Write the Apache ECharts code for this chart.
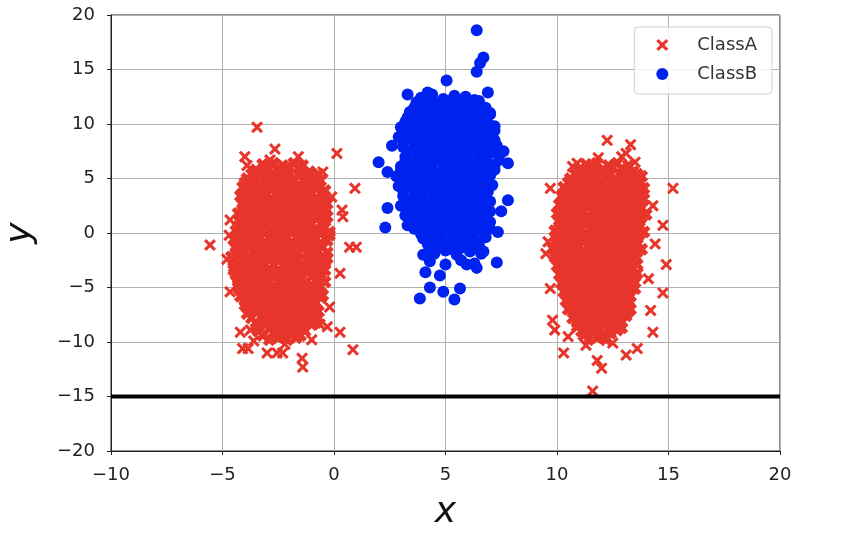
<!DOCTYPE html>
<html><head><meta charset="utf-8">
<script src="https://cdn.jsdelivr.net/npm/echarts@6/dist/echarts.min.js"></script>
<style>html,body{margin:0;padding:0;background:#fff}#c{width:844px;height:550px}</style>
</head><body><div id="c"></div>
<script>
// ---- data ----
const seriesNames = ['ClassA', 'ClassB'];
const xTicks = [-10, -5, 0, 5, 10, 15, 20];
const yTicks = [-20, -15, -10, -5, 0, 5, 10, 15, 20];
const boundaryX = [-10, 20];
const boundaryY = [-15, -15];

const classA_left = [
[-3.5,5.8],[-3.0,6.1],[-2.5,5.7],[-2.1,6.0],[-1.6,5.9],[-1.1,5.6],
[-3.9,5.0],[-3.4,5.3],[-3.0,4.9],[-2.6,5.2],[-2.2,5.1],[-1.8,4.9],[-1.3,5.2],[-0.9,5.0],
[-4.1,4.2],[-3.7,4.5],[-3.3,4.1],[-2.9,4.4],[-2.4,4.3],[-2.0,4.1],[-1.6,4.4],[-1.2,4.2],[-0.7,4.4],
[-4.2,3.4],[-3.8,3.7],[-3.4,3.3],[-3.0,3.6],[-2.6,3.5],[-2.2,3.3],[-1.8,3.6],[-1.4,3.4],[-1.0,3.7],[-0.5,3.5],
[-4.1,2.6],[-3.6,2.9],[-3.2,2.5],[-2.8,2.8],[-2.4,2.7],[-2.0,2.5],[-1.6,2.8],[-1.1,2.6],[-0.7,2.9],[-0.3,2.7],
[-4.3,1.8],[-3.9,2.1],[-3.4,1.7],[-3.0,2.0],[-2.6,1.9],[-2.2,1.7],[-1.8,2.0],[-1.4,1.8],[-0.9,2.1],[-0.5,1.9],
[-4.2,1.0],[-3.8,1.3],[-3.3,0.9],[-2.9,1.2],[-2.5,1.1],[-2.1,0.9],[-1.7,1.2],[-1.3,1.0],[-0.8,1.3],[-0.4,1.1],
[-4.4,0.2],[-4.0,0.5],[-3.6,0.1],[-3.2,0.4],[-2.8,0.3],[-2.3,0.1],[-1.9,0.4],[-1.5,0.2],[-1.1,0.5],[-0.6,0.3],[-0.2,0.1],
[-4.5,-0.6],[-4.1,-0.3],[-3.7,-0.7],[-3.3,-0.4],[-2.9,-0.5],[-2.5,-0.7],[-2.1,-0.4],[-1.6,-0.6],[-1.2,-0.3],[-0.8,-0.5],[-0.3,-0.7],
[-4.4,-1.4],[-3.9,-1.1],[-3.5,-1.5],[-3.1,-1.2],[-2.7,-1.3],[-2.3,-1.5],[-1.9,-1.2],[-1.4,-1.4],[-1.0,-1.1],[-0.5,-1.3],
[-4.6,-2.2],[-4.2,-1.9],[-3.8,-2.3],[-3.4,-2.0],[-2.9,-2.1],[-2.5,-2.3],[-2.1,-2.0],[-1.7,-2.2],[-1.2,-1.9],[-0.8,-2.1],[-0.3,-2.3],
[-4.3,-3.0],[-3.9,-2.7],[-3.5,-3.1],[-3.1,-2.8],[-2.7,-2.9],[-2.2,-3.1],[-1.8,-2.8],[-1.4,-3.0],[-1.0,-2.7],[-0.5,-2.9],
[-4.4,-3.8],[-4.0,-3.5],[-3.6,-3.9],[-3.2,-3.6],[-2.8,-3.7],[-2.4,-3.9],[-2.0,-3.6],[-1.5,-3.8],[-1.1,-3.5],[-0.6,-3.7],
[-4.2,-4.6],[-3.8,-4.3],[-3.3,-4.7],[-2.9,-4.4],[-2.5,-4.5],[-2.1,-4.7],[-1.7,-4.4],[-1.3,-4.6],[-0.8,-4.3],[-0.4,-4.5],
[-4.1,-5.4],[-3.7,-5.1],[-3.3,-5.5],[-2.8,-5.2],[-2.4,-5.3],[-2.0,-5.5],[-1.6,-5.2],[-1.1,-5.4],[-0.7,-5.1],
[-4.0,-6.2],[-3.5,-5.9],[-3.1,-6.3],[-2.7,-6.0],[-2.3,-6.1],[-1.9,-6.3],[-1.4,-6.0],[-1.0,-6.2],[-0.6,-5.9],
[-3.8,-7.0],[-3.4,-6.7],[-3.0,-7.1],[-2.5,-6.8],[-2.1,-6.9],[-1.7,-7.1],[-1.3,-6.8],[-0.9,-7.0],
[-3.7,-7.8],[-3.2,-7.5],[-2.8,-7.9],[-2.4,-7.6],[-2.0,-7.7],[-1.5,-7.9],[-1.1,-7.6],[-0.7,-7.8],
[-3.4,-8.6],[-3.0,-8.3],[-2.6,-8.7],[-2.2,-8.4],[-1.8,-8.5],[-1.4,-8.7],[-1.0,-8.4],
[-3.2,-9.4],[-2.7,-9.1],[-2.3,-9.5],[-1.9,-9.2],[-1.5,-9.4]
];
const classA_left_fill = [
[-3.2,6.3],[-2.7,6.4],[-2.3,6.2],[-1.8,6.4],[-1.4,6.2],
[-3.7,5.4],[-3.2,5.6],[-2.8,5.4],[-2.4,5.6],[-2.0,5.5],[-1.5,5.4],[-1.1,5.6],[-0.7,5.4],
[-4.0,4.6],[-3.5,4.8],[-3.1,4.6],[-2.7,4.8],[-2.3,4.7],[-1.9,4.6],[-1.4,4.8],[-1.0,4.6],[-0.6,4.8],
[-4.0,3.8],[-3.6,4.0],[-3.2,3.8],[-2.8,4.0],[-2.4,3.9],[-2.0,3.8],[-1.6,4.0],[-1.2,3.8],[-0.8,4.0],[-0.4,3.9],
[-4.0,3.0],[-3.6,3.2],[-3.2,3.0],[-2.8,3.2],[-2.4,3.1],[-2.0,3.0],[-1.6,3.2],[-1.2,3.0],[-0.8,3.2],[-0.4,3.1],
[-4.1,2.2],[-3.7,2.4],[-3.3,2.2],[-2.9,2.4],[-2.5,2.3],[-2.1,2.2],[-1.7,2.4],[-1.3,2.2],[-0.9,2.4],[-0.4,2.3],
[-4.0,1.4],[-3.6,1.6],[-3.2,1.4],[-2.8,1.6],[-2.4,1.5],[-2.0,1.4],[-1.6,1.6],[-1.1,1.4],[-0.7,1.6],[-0.3,1.5],
[-4.3,0.6],[-3.8,0.8],[-3.4,0.6],[-3.0,0.8],[-2.6,0.7],[-2.2,0.6],[-1.8,0.8],[-1.4,0.6],[-1.0,0.8],[-0.5,0.7],
[-4.3,-0.2],[-3.9,0.0],[-3.5,-0.2],[-3.1,0.0],[-2.7,-0.1],[-2.3,-0.2],[-1.9,0.0],[-1.4,-0.2],[-1.0,0.0],[-0.6,-0.1],[-0.2,-0.2],
[-4.3,-1.0],[-3.9,-0.8],[-3.5,-1.0],[-3.1,-0.8],[-2.7,-0.9],[-2.3,-1.0],[-1.9,-0.8],[-1.5,-1.0],[-1.1,-0.8],[-0.6,-0.9],
[-4.4,-1.8],[-4.0,-1.6],[-3.6,-1.8],[-3.2,-1.6],[-2.8,-1.7],[-2.4,-1.8],[-2.0,-1.6],[-1.6,-1.8],[-1.1,-1.6],[-0.7,-1.7],[-0.3,-1.8],
[-4.5,-2.6],[-4.1,-2.4],[-3.7,-2.6],[-3.3,-2.4],[-2.9,-2.5],[-2.5,-2.6],[-2.1,-2.4],[-1.6,-2.6],[-1.2,-2.4],[-0.8,-2.5],[-0.4,-2.6],
[-4.5,-3.4],[-4.1,-3.2],[-3.7,-3.4],[-3.3,-3.2],[-2.9,-3.3],[-2.5,-3.4],[-2.1,-3.2],[-1.7,-3.4],[-1.3,-3.2],[-0.9,-3.3],[-0.4,-3.4],
[-4.3,-4.2],[-3.9,-4.0],[-3.5,-4.2],[-3.1,-4.0],[-2.7,-4.1],[-2.3,-4.2],[-1.9,-4.0],[-1.5,-4.2],[-1.0,-4.0],[-0.6,-4.1],
[-4.3,-5.0],[-3.9,-4.8],[-3.5,-5.0],[-3.1,-4.8],[-2.7,-4.9],[-2.3,-5.0],[-1.9,-4.8],[-1.5,-5.0],[-1.0,-4.8],[-0.6,-4.9],
[-4.2,-5.8],[-3.8,-5.6],[-3.4,-5.8],[-3.0,-5.6],[-2.6,-5.7],[-2.2,-5.8],[-1.8,-5.6],[-1.3,-5.8],[-0.9,-5.6],[-0.5,-5.7],
[-4.0,-6.6],[-3.6,-6.4],[-3.2,-6.6],[-2.8,-6.4],[-2.4,-6.5],[-2.0,-6.6],[-1.6,-6.4],[-1.2,-6.6],[-0.8,-6.4],
[-3.9,-7.4],[-3.5,-7.2],[-3.1,-7.4],[-2.7,-7.2],[-2.3,-7.3],[-1.9,-7.4],[-1.5,-7.2],[-1.1,-7.4],[-0.7,-7.2],
[-3.5,-8.2],[-3.1,-8.0],[-2.7,-8.2],[-2.3,-8.0],[-1.9,-8.1],[-1.5,-8.2],[-1.1,-8.0],[-0.8,-8.2],
[-3.4,-9.0],[-2.9,-8.8],[-2.5,-9.0],[-2.1,-8.8],[-1.7,-8.9],[-1.3,-9.0],
[-2.9,-9.8],[-2.5,-9.6],[-2.1,-9.8],[-1.7,-9.6]
];
const classA_left_outliers = [
[-3.45,9.7],[-4.0,7.0],[-2.65,7.7],[-2.87,6.7],[-1.6,7.0],[0.13,7.3],[-0.5,5.6],[0.94,4.1],
[-4.66,1.2],[-5.56,-1.1],[0.7,-1.3],[1.0,-1.3],[0.36,2.1],[0.4,1.5],[0.27,-3.7],[-4.66,-5.4],
[-4.5,-3.1],[-4.35,-3.9],[-4.2,-9.1],[-4.1,-10.6],[-3.85,-10.6],[-3.0,-11.0],[-2.55,-11.0],[-2.3,-11.0],
[-1.43,-11.5],[-1.4,-12.3],[0.85,-10.7],[0.27,-9.1],[-0.63,-8.4],[-0.3,-8.6],[-3.45,-8.3],[-3.75,-8.9],
[-0.2,-6.8],[-2.2,-10.2],[-1.0,-9.8],[-3.6,-9.9],[-4.8,-2.4],[-4.7,-0.2],[-0.1,3.3],[-3.9,6.2]
];

const classA_right = [
[11.0,5.8],[11.5,6.1],[12.0,5.7],[12.5,6.0],[12.9,5.9],[13.4,5.6],
[10.6,5.0],[11.0,5.3],[11.4,4.9],[11.8,5.2],[12.2,5.1],[12.6,4.9],[13.0,5.2],[13.4,5.0],[13.8,5.2],
[10.3,4.2],[10.7,4.5],[11.1,4.1],[11.5,4.4],[11.9,4.3],[12.3,4.1],[12.7,4.4],[13.1,4.2],[13.5,4.4],[13.9,4.1],
[10.2,3.4],[10.6,3.7],[11.0,3.3],[11.4,3.6],[11.8,3.5],[12.2,3.3],[12.6,3.6],[13.0,3.4],[13.4,3.7],[13.8,3.5],
[10.1,2.6],[10.5,2.9],[10.9,2.5],[11.3,2.8],[11.7,2.7],[12.1,2.5],[12.5,2.8],[12.9,2.6],[13.3,2.9],[13.7,2.7],
[10.0,1.8],[10.4,2.1],[10.8,1.7],[11.2,2.0],[11.6,1.9],[12.0,1.7],[12.4,2.0],[12.8,1.8],[13.2,2.1],[13.6,1.9],[14.0,1.7],
[10.1,1.0],[10.5,1.3],[10.9,0.9],[11.3,1.2],[11.7,1.1],[12.1,0.9],[12.5,1.2],[12.9,1.0],[13.3,1.3],[13.7,1.1],
[9.9,0.2],[10.3,0.5],[10.7,0.1],[11.1,0.4],[11.5,0.3],[11.9,0.1],[12.3,0.4],[12.7,0.2],[13.1,0.5],[13.5,0.3],[13.9,0.1],
[10.0,-0.6],[10.4,-0.3],[10.8,-0.7],[11.2,-0.4],[11.6,-0.5],[12.0,-0.7],[12.4,-0.4],[12.8,-0.6],[13.2,-0.3],[13.6,-0.5],
[9.8,-1.4],[10.2,-1.1],[10.6,-1.5],[11.0,-1.2],[11.4,-1.3],[11.8,-1.5],[12.2,-1.2],[12.6,-1.4],[13.0,-1.1],[13.4,-1.3],[13.8,-1.5],
[9.9,-2.2],[10.3,-1.9],[10.7,-2.3],[11.1,-2.0],[11.5,-2.1],[11.9,-2.3],[12.3,-2.0],[12.7,-2.2],[13.1,-1.9],[13.5,-2.1],
[10.0,-3.0],[10.4,-2.7],[10.8,-3.1],[11.2,-2.8],[11.6,-2.9],[12.0,-3.1],[12.4,-2.8],[12.8,-3.0],[13.2,-2.7],[13.6,-2.9],
[10.1,-3.8],[10.5,-3.5],[10.9,-3.9],[11.3,-3.6],[11.7,-3.7],[12.1,-3.9],[12.5,-3.6],[12.9,-3.8],[13.3,-3.5],[13.6,-3.7],
[10.2,-4.6],[10.6,-4.3],[11.0,-4.7],[11.4,-4.4],[11.8,-4.5],[12.2,-4.7],[12.6,-4.4],[13.0,-4.6],[13.4,-4.3],
[10.3,-5.4],[10.7,-5.1],[11.1,-5.5],[11.5,-5.2],[11.9,-5.3],[12.3,-5.5],[12.7,-5.2],[13.1,-5.4],[13.5,-5.1],
[10.4,-6.2],[10.8,-5.9],[11.2,-6.3],[11.6,-6.0],[12.0,-6.1],[12.4,-6.3],[12.8,-6.0],[13.2,-6.2],
[10.5,-7.0],[10.9,-6.7],[11.3,-7.1],[11.7,-6.8],[12.1,-6.9],[12.5,-7.1],[12.9,-6.8],[13.3,-7.0],
[10.7,-7.8],[11.1,-7.5],[11.5,-7.9],[11.9,-7.6],[12.3,-7.7],[12.7,-7.9],[13.1,-7.6],
[10.9,-8.6],[11.3,-8.3],[11.7,-8.7],[12.1,-8.4],[12.5,-8.5],[12.9,-8.7],
[11.2,-9.4],[11.6,-9.1],[12.0,-9.5],[12.4,-9.2]
];
const classA_right_fill = [
[11.3,6.3],[11.8,6.4],[12.3,6.2],[12.7,6.4],[13.2,6.2],
[10.8,5.4],[11.2,5.6],[11.6,5.4],[12.0,5.6],[12.4,5.5],[12.8,5.4],[13.2,5.6],[13.6,5.4],
[10.5,4.6],[10.9,4.8],[11.3,4.6],[11.7,4.8],[12.1,4.7],[12.5,4.6],[12.9,4.8],[13.3,4.6],[13.7,4.8],
[10.4,3.8],[10.8,4.0],[11.2,3.8],[11.6,4.0],[12.0,3.9],[12.4,3.8],[12.8,4.0],[13.2,3.8],[13.6,4.0],
[10.3,3.0],[10.7,3.2],[11.1,3.0],[11.5,3.2],[11.9,3.1],[12.3,3.0],[12.7,3.2],[13.1,3.0],[13.5,3.2],[13.9,3.1],
[10.2,2.2],[10.6,2.4],[11.0,2.2],[11.4,2.4],[11.8,2.3],[12.2,2.2],[12.6,2.4],[13.0,2.2],[13.4,2.4],[13.8,2.3],
[10.2,1.4],[10.6,1.6],[11.0,1.4],[11.4,1.6],[11.8,1.5],[12.2,1.4],[12.6,1.6],[13.0,1.4],[13.4,1.6],[13.8,1.5],
[10.1,0.6],[10.5,0.8],[10.9,0.6],[11.3,0.8],[11.7,0.7],[12.1,0.6],[12.5,0.8],[12.9,0.6],[13.3,0.8],[13.7,0.7],
[10.1,-0.2],[10.5,0.0],[10.9,-0.2],[11.3,0.0],[11.7,-0.1],[12.1,-0.2],[12.5,0.0],[12.9,-0.2],[13.3,0.0],[13.7,-0.1],
[10.0,-1.0],[10.4,-0.8],[10.8,-1.0],[11.2,-0.8],[11.6,-0.9],[12.0,-1.0],[12.4,-0.8],[12.8,-1.0],[13.2,-0.8],[13.6,-0.9],
[10.0,-1.8],[10.4,-1.6],[10.8,-1.8],[11.2,-1.6],[11.6,-1.7],[12.0,-1.8],[12.4,-1.6],[12.8,-1.8],[13.2,-1.6],[13.6,-1.7],
[10.1,-2.6],[10.5,-2.4],[10.9,-2.6],[11.3,-2.4],[11.7,-2.5],[12.1,-2.6],[12.5,-2.4],[12.9,-2.6],[13.3,-2.4],
[10.2,-3.4],[10.6,-3.2],[11.0,-3.4],[11.4,-3.2],[11.8,-3.3],[12.2,-3.4],[12.6,-3.2],[13.0,-3.4],[13.4,-3.2],
[10.3,-4.2],[10.7,-4.0],[11.1,-4.2],[11.5,-4.0],[11.9,-4.1],[12.3,-4.2],[12.7,-4.0],[13.1,-4.2],[13.5,-4.0],
[10.4,-5.0],[10.8,-4.8],[11.2,-5.0],[11.6,-4.8],[12.0,-4.9],[12.4,-5.0],[12.8,-4.8],[13.2,-5.0],
[10.5,-5.8],[10.9,-5.6],[11.3,-5.8],[11.7,-5.6],[12.1,-5.7],[12.5,-5.8],[12.9,-5.6],[13.3,-5.8],
[10.6,-6.6],[11.0,-6.4],[11.4,-6.6],[11.8,-6.4],[12.2,-6.5],[12.6,-6.6],[13.0,-6.4],
[10.8,-7.4],[11.2,-7.2],[11.6,-7.4],[12.0,-7.2],[12.4,-7.3],[12.8,-7.4],[13.2,-7.2],
[10.9,-8.2],[11.3,-8.0],[11.7,-8.2],[12.1,-8.0],[12.5,-8.1],[12.9,-8.2],
[11.1,-9.0],[11.5,-8.8],[11.9,-9.0],[12.3,-8.8],[12.7,-8.9],
[11.4,-9.8],[11.8,-9.6],[12.2,-9.8]
];
const classA_right_outliers = [
[12.25,8.5],[13.3,8.1],[13.1,7.3],[10.9,6.4],[10.7,6.1],[11.85,6.9],[9.7,4.1],[15.2,4.1],
[14.75,0.7],[9.5,-1.9],[14.9,-2.9],[9.7,-5.1],[14.75,-5.5],[14.2,-7.1],[14.3,-9.1],[10.3,-11.0],
[12.0,-12.4],[11.8,-11.7],[13.1,-11.2],[13.6,-10.6],[11.6,-14.5],[9.8,-8.0],[9.9,-8.9],[14.3,2.5],
[14.4,-1.0],[12.9,7.0],[13.5,6.5],[11.3,-10.3],[12.5,-10.1],[10.5,-9.5],[9.6,-0.8],[14.1,-4.2]
];

const classB = [
[3.9,12.4],[4.4,12.7],[4.9,12.3],[5.4,12.6],[5.9,12.5],[6.3,12.2],
[3.6,11.5],[4.1,11.8],[4.5,11.4],[5.0,11.7],[5.5,11.6],[5.9,11.4],[6.4,11.7],[6.8,11.5],
[3.3,10.6],[3.8,10.9],[4.2,10.5],[4.7,10.8],[5.2,10.7],[5.6,10.5],[6.1,10.8],[6.6,10.6],[7.0,10.9],
[3.0,9.7],[3.5,10.0],[3.9,9.6],[4.4,9.9],[4.9,9.8],[5.3,9.6],[5.8,9.9],[6.3,9.7],[6.7,10.0],[7.2,9.8],
[2.9,8.8],[3.4,9.1],[3.8,8.7],[4.3,9.0],[4.8,8.9],[5.2,8.7],[5.7,9.0],[6.2,8.8],[6.6,9.1],[7.1,8.9],
[3.1,7.9],[3.6,8.2],[4.0,7.8],[4.5,8.1],[5.0,8.0],[5.4,7.8],[5.9,8.1],[6.4,7.9],[6.8,8.2],[7.3,8.0],
[3.2,7.0],[3.7,7.3],[4.1,6.9],[4.6,7.2],[5.1,7.1],[5.5,6.9],[6.0,7.2],[6.5,7.0],[6.9,7.3],[7.4,7.1],
[3.0,6.1],[3.5,6.4],[3.9,6.0],[4.4,6.3],[4.9,6.2],[5.3,6.0],[5.8,6.3],[6.3,6.1],[6.7,6.4],[7.2,6.2],
[2.8,5.2],[3.3,5.5],[3.7,5.1],[4.2,5.4],[4.7,5.3],[5.1,5.1],[5.6,5.4],[6.1,5.2],[6.5,5.5],[7.0,5.3],
[2.9,4.3],[3.4,4.6],[3.8,4.2],[4.3,4.5],[4.8,4.4],[5.2,4.2],[5.7,4.5],[6.2,4.3],[6.6,4.6],[7.1,4.4],
[3.1,3.4],[3.6,3.7],[4.0,3.3],[4.5,3.6],[5.0,3.5],[5.4,3.3],[5.9,3.6],[6.4,3.4],[6.8,3.7],
[3.0,2.5],[3.5,2.8],[3.9,2.4],[4.4,2.7],[4.9,2.6],[5.3,2.4],[5.8,2.7],[6.3,2.5],[6.7,2.8],
[3.2,1.6],[3.7,1.9],[4.1,1.5],[4.6,1.8],[5.1,1.7],[5.5,1.5],[6.0,1.8],[6.5,1.6],[6.9,1.9],
[3.3,0.7],[3.8,1.0],[4.2,0.6],[4.7,0.9],[5.2,0.8],[5.6,0.6],[6.1,0.9],[6.6,0.7],[7.0,1.0],
[3.9,-0.1],[4.4,0.2],[4.8,-0.2],[5.3,0.1],[5.8,0.0],[6.2,-0.2],[6.7,0.1],
[4.2,-1.0],[4.6,-0.7],[5.1,-1.1],[5.6,-0.8],[6.0,-0.9],[6.5,-1.1],
[4.5,-1.9],[5.0,-1.6],[5.5,-2.0],[6.1,-1.7],[6.6,-1.9],
[4.3,-2.6],[5.0,-2.9],[5.7,-2.5],[6.3,-2.8]
];
const classB_fill = [
[3.7,12.0],[4.2,12.1],[4.6,11.9],[5.1,12.1],[5.6,12.0],[6.1,11.9],[6.5,12.1],
[3.4,11.1],[3.9,11.2],[4.3,11.0],[4.8,11.2],[5.3,11.1],[5.7,11.0],[6.2,11.2],[6.6,11.1],[7.0,11.0],
[3.2,10.2],[3.6,10.3],[4.1,10.1],[4.5,10.3],[5.0,10.2],[5.5,10.1],[5.9,10.3],[6.4,10.2],[6.9,10.1],
[3.1,9.3],[3.6,9.4],[4.0,9.2],[4.5,9.4],[5.0,9.3],[5.4,9.2],[5.9,9.4],[6.4,9.3],[6.8,9.2],[7.2,9.4],
[3.1,8.4],[3.6,8.5],[4.1,8.3],[4.5,8.5],[5.0,8.4],[5.5,8.3],[5.9,8.5],[6.4,8.4],[6.9,8.3],[7.2,8.5],
[3.3,7.5],[3.8,7.6],[4.2,7.4],[4.7,7.6],[5.2,7.5],[5.6,7.4],[6.1,7.6],[6.6,7.5],[7.1,7.4],
[3.2,6.6],[3.7,6.7],[4.1,6.5],[4.6,6.7],[5.1,6.6],[5.5,6.5],[6.0,6.7],[6.5,6.6],[6.9,6.5],[7.4,6.7],
[3.0,5.7],[3.5,5.8],[4.0,5.6],[4.4,5.8],[4.9,5.7],[5.4,5.6],[5.8,5.8],[6.3,5.7],[6.8,5.6],[7.2,5.8],
[3.1,4.8],[3.5,4.9],[4.0,4.7],[4.5,4.9],[4.9,4.8],[5.4,4.7],[5.9,4.9],[6.3,4.8],[6.8,4.7],
[3.1,3.9],[3.6,4.0],[4.0,3.8],[4.5,4.0],[5.0,3.9],[5.4,3.8],[5.9,4.0],[6.4,3.9],[6.9,3.8],
[3.3,3.0],[3.8,3.1],[4.2,2.9],[4.7,3.1],[5.2,3.0],[5.6,2.9],[6.1,3.1],[6.6,3.0],[7.0,2.9],
[3.3,2.1],[3.7,2.2],[4.2,2.0],[4.7,2.2],[5.1,2.1],[5.6,2.0],[6.1,2.2],[6.5,2.1],[7.0,2.0],
[3.5,1.2],[3.9,1.3],[4.4,1.1],[4.9,1.3],[5.3,1.2],[5.8,1.1],[6.3,1.3],[6.8,1.2],
[3.6,0.4],[4.1,0.5],[4.6,0.3],[5.0,0.5],[5.5,0.4],[6.0,0.3],[6.5,0.5],[7.0,0.4],
[4.0,-0.5],[4.4,-0.4],[4.9,-0.6],[5.4,-0.4],[5.8,-0.5],[6.3,-0.6],[6.8,-0.4],
[4.3,-1.4],[4.8,-1.3],[5.3,-1.5],[5.8,-1.3],[6.3,-1.4]
];
const classB_outliers = [
[6.4,18.6],[6.7,16.1],[6.55,15.6],[6.4,14.8],[3.3,12.7],[4.2,12.9],[6.9,12.9],[5.05,14.0],
[2.0,6.5],[2.4,5.6],[7.8,6.4],[7.8,3.0],[2.4,2.3],[2.3,0.5],[7.35,0.1],[7.3,-2.7],
[4.0,-2.0],[4.1,-3.6],[4.75,-3.9],[4.3,-5.0],[3.85,-6.0],[4.9,-5.4],[5.4,-6.1],[5.65,-5.1],
[6.4,-3.2],[6.7,-1.7],[5.95,-2.9],[7.5,2.0],[2.6,8.0],[7.6,7.5]
];

// ---- chart ----
const redColor = '#e8352b';
const blueColor = '#0022ee';
const crossPath = 'path://M0,1.8 L1.8,0 L5,3.2 L8.2,0 L10,1.8 L6.8,5 L10,8.2 L8.2,10 L5,6.8 L1.8,10 L0,8.2 L3.2,5 Z';
const crossCorePath = 'path://M0,2.6 L2.6,0 L5,2.4 L7.4,0 L10,2.6 L7.6,5 L10,7.4 L7.4,10 L5,7.6 L2.6,10 L0,7.4 L2.4,5 Z';
const fmt = v => String(v).replace('-', '\u2212');
const font = 'DejaVu Sans';

const classACore = classA_left.concat(classA_left_fill, classA_right, classA_right_fill);
const classAOut = classA_left_outliers.concat(classA_right_outliers);
const classBAll = classB.concat(classB_fill, classB_outliers);

const chart = echarts.init(document.getElementById('c'), null, {renderer: 'canvas'});
chart.setOption({
  animation: false,
  backgroundColor: '#fff',
  textStyle: {fontFamily: font},
  grid: {left: 111, right: 64, top: 15, bottom: 99, containLabel: false, outerBoundsMode: 'none',
         show: true, borderColor: '#222', borderWidth: 1, backgroundColor: 'transparent'},
  legend: {
    data: [{name: seriesNames[0], icon: crossPath}, {name: seriesNames[1], icon: 'circle'}],
    orient: 'vertical', right: 72, top: 27,
    itemWidth: 12, itemHeight: 12, itemGap: 11,
    padding: [9, 15, 11, 22],
    borderColor: '#d0d0d0', borderWidth: 1, borderRadius: 4,
    backgroundColor: 'rgba(255,255,255,0.85)',
    textStyle: {fontFamily: font, fontSize: 18, color: '#333', padding: [0, 0, 0, 24]}
  },
  xAxis: {
    type: 'value', min: xTicks[0], max: xTicks[xTicks.length - 1], interval: 5,
    name: 'x', nameLocation: 'middle', nameGap: 44,
    nameTextStyle: {fontFamily: font, fontStyle: 'italic', fontSize: 36, color: '#111'},
    axisLine: {show: true, onZero: false, lineStyle: {color: '#222', width: 1}},
    axisTick: {show: true, length: 4, lineStyle: {color: '#222'}},
    axisLabel: {formatter: fmt, fontSize: 18, color: '#222', margin: 15, fontFamily: font},
    splitLine: {show: true, lineStyle: {color: '#b0b0b0', width: 1}}
  },
  yAxis: {
    type: 'value', min: yTicks[0], max: yTicks[yTicks.length - 1], interval: 5,
    name: 'y', nameLocation: 'middle', nameGap: 72,
    nameTextStyle: {fontFamily: font, fontStyle: 'italic', fontSize: 36, color: '#111'},
    axisLine: {show: true, onZero: false, lineStyle: {color: '#222', width: 1}},
    axisTick: {show: true, length: 4, lineStyle: {color: '#222'}},
    axisLabel: {formatter: fmt, fontSize: 18, color: '#222', margin: 16, fontFamily: font},
    splitLine: {show: true, lineStyle: {color: '#b0b0b0', width: 1}}
  },
  series: [
    {name: seriesNames[0], type: 'scatter', symbol: crossCorePath, symbolSize: 13,
     itemStyle: {color: redColor, opacity: 1}, data: classACore, z: 2},
    {name: seriesNames[0], type: 'scatter', symbol: crossPath, symbolSize: 12,
     itemStyle: {color: redColor, opacity: 1}, data: classAOut, z: 2},
    {name: seriesNames[1], type: 'scatter', symbol: 'circle', symbolSize: 12,
     itemStyle: {color: blueColor, opacity: 1}, data: classBAll, z: 3},
    {name: 'boundary', type: 'line', symbol: 'none', silent: true,
     lineStyle: {color: '#000', width: 4}, data: boundaryX.map((x, i) => [x, boundaryY[i]]), z: 4}
  ]
});
</script>
</body></html>
